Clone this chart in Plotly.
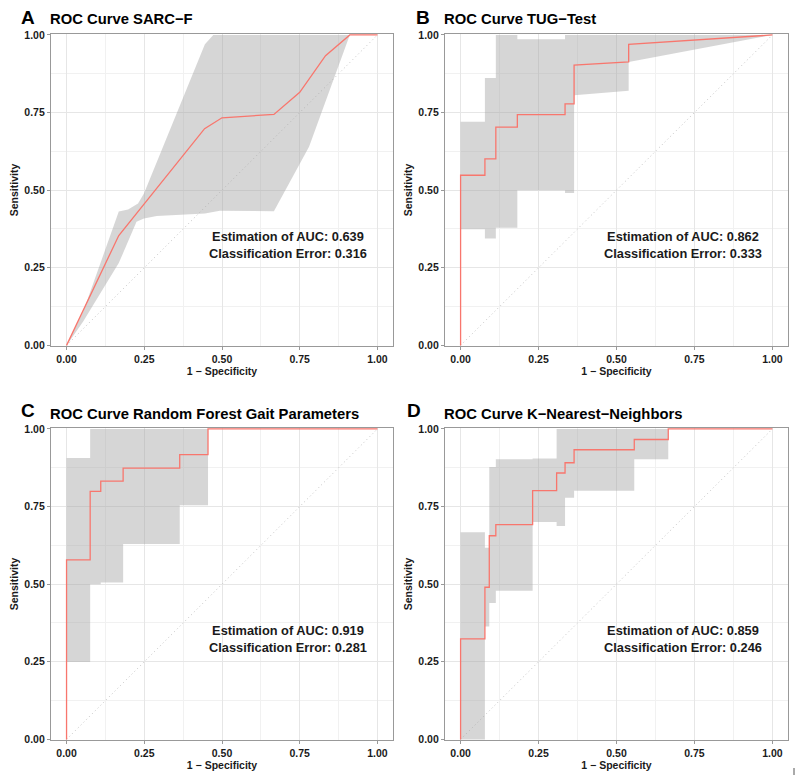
import plotly.graph_objects as go

W, H = 800, 775

# ---------------- data ----------------
panel_letters = ["A", "B", "C", "D"]
panel_titles = [
    "ROC Curve SARC\u2212F",
    "ROC Curve TUG\u2212Test",
    "ROC Curve Random Forest Gait Parameters",
    "ROC Curve K\u2212Nearest\u2212Neighbors",
]
auc_values = [0.639, 0.862, 0.919, 0.859]
class_errors = [0.316, 0.333, 0.281, 0.246]
tick_values = [0, 0.25, 0.5, 0.75, 1.0]
tick_labels = ["0.00", "0.25", "0.50", "0.75", "1.00"]

# A: SARC-F
sarcf_fpr = [0, 0.168, 0.444, 0.5, 0.667, 0.75, 0.833, 0.911, 1.0]
sarcf_tpr = [0, 0.354, 0.698, 0.733, 0.744, 0.815, 0.933, 1.0, 1.0]
sarcf_up_x = [0, 0.054, 0.168, 0.198, 0.23, 0.249, 0.445, 0.472, 1.0]
sarcf_up_y = [0, 0.11, 0.431, 0.438, 0.457, 0.489, 0.970, 1.0, 1.0]
sarcf_lo_x = [0, 0.054, 0.168, 0.225, 0.249, 0.29, 0.445, 0.493, 0.667, 0.78, 0.911, 1.0]
sarcf_lo_y = [0, 0.078, 0.265, 0.398, 0.409, 0.417, 0.425, 0.434, 0.432, 0.64, 1.0, 1.0]

# B: TUG-Test
tug_fpr = [0, 0, 0.078, 0.078, 0.113, 0.113, 0.182, 0.182, 0.335, 0.335, 0.364, 0.364, 0.539, 0.539, 1.0]
tug_tpr = [0, 0.548, 0.548, 0.601, 0.601, 0.703, 0.703, 0.743, 0.743, 0.778, 0.778, 0.903, 0.913, 0.970, 1.0]
tug_up_x = [0, 0.078, 0.078, 0.113, 0.113, 0.182, 0.182, 0.335, 0.335, 1.0]
tug_up_y = [0.72, 0.72, 0.861, 0.861, 1.0, 1.0, 0.986, 0.986, 1.0, 1.0]
tug_lo_x = [0, 0.078, 0.078, 0.113, 0.113, 0.182, 0.182, 0.335, 0.335, 0.364, 0.364, 0.539, 0.539, 1.0]
tug_lo_y = [0.374, 0.374, 0.344, 0.344, 0.379, 0.379, 0.5, 0.5, 0.491, 0.491, 0.806, 0.82, 0.913, 1.0]

# C: Random Forest gait parameters
rf_fpr = [0, 0, 0.076, 0.076, 0.110, 0.110, 0.182, 0.182, 0.364, 0.364, 0.455, 0.455, 1.0]
rf_tpr = [0, 0.578, 0.578, 0.799, 0.799, 0.832, 0.832, 0.874, 0.874, 0.917, 0.917, 1.0, 1.0]
rf_up_x = [0, 0.076, 0.076, 0.455]
rf_up_y = [0.906, 0.906, 1.0, 1.0]
rf_lo_x = [0, 0.076, 0.076, 0.110, 0.110, 0.182, 0.182, 0.364, 0.364, 0.455, 0.455]
rf_lo_y = [0.249, 0.249, 0.5, 0.5, 0.505, 0.505, 0.629, 0.629, 0.754, 0.754, 1.0]

# D: K-Nearest-Neighbors
knn_fpr = [0, 0, 0.078, 0.078, 0.092, 0.092, 0.113, 0.113, 0.231, 0.231, 0.308, 0.308,
           0.335, 0.335, 0.364, 0.364, 0.557, 0.557, 0.666, 0.666, 1.0]
knn_tpr = [0, 0.324, 0.324, 0.49, 0.49, 0.656, 0.656, 0.692, 0.692, 0.801, 0.801, 0.858,
           0.858, 0.891, 0.891, 0.933, 0.933, 0.966, 0.966, 1.0, 1.0]
knn_up_x = [0, 0.078, 0.078, 0.092, 0.092, 0.113, 0.113, 0.231, 0.231, 0.308, 0.308, 1.0]
knn_up_y = [0.667, 0.667, 0.617, 0.617, 0.877, 0.877, 0.902, 0.902, 0.905, 0.905, 1.0, 1.0]
knn_lo_x = [0, 0.078, 0.078, 0.092, 0.092, 0.113, 0.113, 0.231, 0.231, 0.308, 0.308, 0.335,
            0.335, 0.364, 0.364, 0.557, 0.557, 0.666, 0.666, 1.0]
knn_lo_y = [0, 0, 0.364, 0.364, 0.439, 0.439, 0.479, 0.479, 0.7, 0.7, 0.687, 0.687,
            0.778, 0.778, 0.801, 0.801, 0.902, 0.902, 1.0, 1.0]

panels = [
    (sarcf_fpr, sarcf_tpr, sarcf_up_x, sarcf_up_y, sarcf_lo_x, sarcf_lo_y),
    (tug_fpr, tug_tpr, tug_up_x, tug_up_y, tug_lo_x, tug_lo_y),
    (rf_fpr, rf_tpr, rf_up_x, rf_up_y, rf_lo_x, rf_lo_y),
    (knn_fpr, knn_tpr, knn_up_x, knn_up_y, knn_lo_x, knn_lo_y),
]

# ---------------- layout geometry (pixels) ----------------
boxes = [(51, 34, 393, 346), (445, 34, 788, 346), (51, 428, 393, 740), (445, 428, 788, 740)]
letter_pos = [(28, 17), (423, 17), (28, 410), (414, 410)]

FONT = "Liberation Sans, Arial, Helvetica, sans-serif"
RED = "#F8766D"
BAND = "rgba(165,165,165,0.45)"
BORDER = "#999999"

fig = go.Figure()
layout = dict(
    width=W, height=H, margin=dict(l=0, r=0, t=0, b=0, autoexpand=False),
    paper_bgcolor="white", plot_bgcolor="white", showlegend=False,
    font=dict(family=FONT, color="#1a1a1a"),
)
annotations = []
shapes = []

for i, (fpr, tpr, ux, uy, lx, ly) in enumerate(panels):
    n = i + 1
    xa = "x" if n == 1 else f"x{n}"
    ya = "y" if n == 1 else f"y{n}"
    x0, y0, x1, y1 = boxes[i]
    common = dict(
        showline=True, mirror=True, linecolor=BORDER, linewidth=1.3,
        ticks="outside", ticklen=3, tickcolor=BORDER, tickwidth=1,
        tickvals=tick_values, ticktext=tick_labels,
        tickfont=dict(family=FONT, size=10.5, color="#1a1a1a", weight="bold"),
        showgrid=True, gridcolor="#e6e6e6", gridwidth=0.8,
        minor=dict(dtick=0.125, tick0=0, showgrid=True, gridcolor="#f1f1f1", gridwidth=0.6, ticks=""),
        zeroline=False, fixedrange=True, automargin=False,
    )
    layout["xaxis" if n == 1 else f"xaxis{n}"] = dict(
        common, domain=[x0 / W, x1 / W], range=[-0.05, 1.05], anchor=ya,
        title=dict(text="1 \u2212 Specificity", standoff=0,
                   font=dict(family=FONT, size=10.5, color="#1a1a1a", weight="bold")),
    )
    layout["yaxis" if n == 1 else f"yaxis{n}"] = dict(
        common, domain=[1 - y1 / H, 1 - y0 / H], range=[-0.002, 1.003], anchor=xa,
        title=dict(text="Sensitivity", standoff=3,
                   font=dict(family=FONT, size=10.5, color="#1a1a1a", weight="bold")),
    )

    # diagonal reference line
    fig.add_trace(go.Scatter(x=[0, 1], y=[0, 1], mode="lines", xaxis=xa, yaxis=ya,
                             line=dict(color="#c4c4c4", width=1, dash="1px,3px"), hoverinfo="skip"))
    # confidence band
    fig.add_trace(go.Scatter(x=list(ux) + list(lx)[::-1], y=list(uy) + list(ly)[::-1],
                             mode="lines", fill="toself", fillcolor=BAND,
                             line=dict(width=0, color="rgba(0,0,0,0)"),
                             xaxis=xa, yaxis=ya, hoverinfo="skip"))
    # ROC curve
    fig.add_trace(go.Scatter(x=fpr, y=tpr, mode="lines", xaxis=xa, yaxis=ya,
                             line=dict(color=RED, width=1.3)))

    # AUC / error text
    annotations.append(dict(
        x=0.713, y=0.323, xref=xa, yref=ya, showarrow=False, xanchor="center", yanchor="middle",
        text=f"Estimation of AUC: {auc_values[i]:.3f}<br>Classification Error: {class_errors[i]:.3f}",
        font=dict(family=FONT, size=12.8, color="#1a1a1a", weight="bold"), align="center",
    ))
    # panel letter
    lxp, lyp = letter_pos[i]
    annotations.append(dict(
        x=lxp / W, y=1 - lyp / H, xref="paper", yref="paper", showarrow=False,
        xanchor="center", yanchor="middle", text=panel_letters[i],
        font=dict(family=FONT, size=19, color="black", weight="bold"),
    ))
    # panel title
    annotations.append(dict(
        x=(x0 - 3) / W, y=1 - (y0 - 14.5) / H, xref="paper", yref="paper", showarrow=False,
        xanchor="left", yanchor="middle", text=panel_titles[i],
        font=dict(family=FONT, size=14.8, color="black", weight="bold"),
    ))

# small stray mark at the bottom right
shapes.append(dict(type="line", xref="paper", yref="paper", x0=794 / W, x1=794 / W,
                   y0=0, y1=7 / H, line=dict(color="#555555", width=1)))

layout["annotations"] = annotations
layout["shapes"] = shapes
fig.update_layout(**layout)
fig.write_html("out.html", config={"displayModeBar": False},
               post_script="document.body.style.margin='0';document.body.style.padding='0';")
